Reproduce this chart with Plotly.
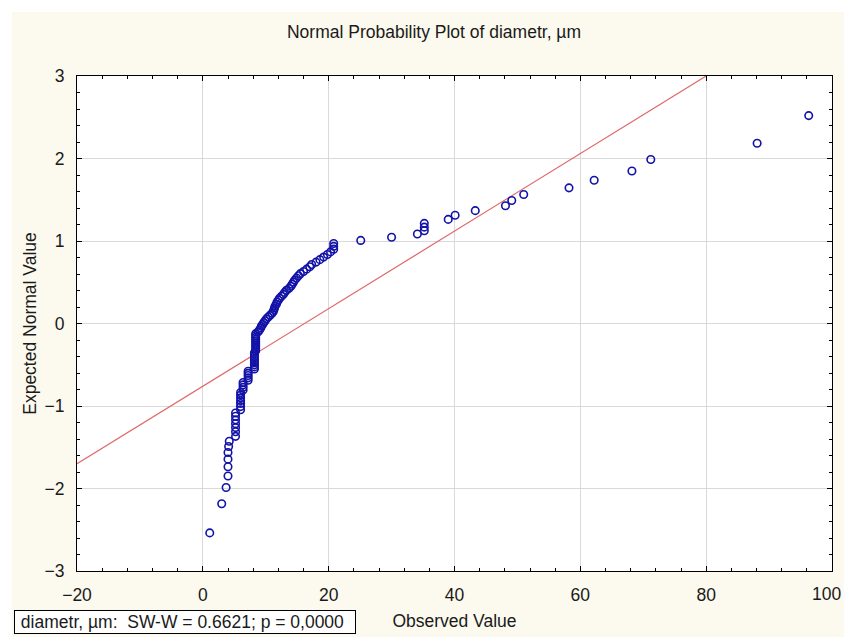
import plotly.graph_objects as go

# Sorted observed diameters (µm) and their expected normal scores
observed = [
    1.1, 3.0, 3.7, 4.0, 4.0, 4.0, 4.0, 4.1, 4.2,
    5.2, 5.2, 5.2, 5.2, 5.2, 5.2, 5.2,
    6.0, 6.0, 6.0, 6.0, 6.0, 6.0, 6.0,
    6.4, 6.4, 6.4, 6.4,
    7.2, 7.2, 7.2, 7.2, 7.2,
    8.2, 8.2, 8.2, 8.2, 8.2, 8.2, 8.2, 8.2, 8.2,
    8.4, 8.4, 8.4, 8.4, 8.4, 8.4, 8.4, 8.4, 8.4, 8.4,
    8.8, 9.0, 9.2, 9.3, 9.5,
    9.7, 9.9, 10.1, 10.4, 10.7, 11.0, 11.2, 11.3, 11.4, 11.5,
    11.7, 11.8, 12.0, 12.2, 12.5, 12.8, 13.0, 13.3, 13.7, 14.0,
    14.2, 14.4, 14.6, 14.9, 15.2, 15.5, 16.0, 16.5, 17.0, 17.3,
    18.0, 18.6, 19.2, 19.8, 20.3, 20.8, 20.8, 20.8,
    25.1, 30.0, 34.1, 35.2, 35.2, 35.2, 39.0, 40.1, 43.3, 48.1,
    49.1, 51.0, 58.2, 62.2, 68.2, 71.2, 88.1, 96.3,
]

expected = [
    -2.538, -2.184, -1.988, -1.848, -1.737, -1.644, -1.563, -1.491, -1.427,
    -1.368, -1.313, -1.262, -1.214, -1.168, -1.125, -1.084,
    -1.045, -1.007, -0.970, -0.935, -0.901, -0.868, -0.836,
    -0.805, -0.774, -0.744, -0.715,
    -0.687, -0.659, -0.631, -0.604, -0.578,
    -0.552, -0.526, -0.501, -0.475, -0.451, -0.426, -0.402, -0.377, -0.353,
    -0.330, -0.306, -0.283, -0.260, -0.237, -0.214, -0.191, -0.168, -0.146, -0.123,
    -0.101, -0.078, -0.056, -0.034, -0.011,
    0.011, 0.034, 0.056, 0.078, 0.101, 0.123, 0.146, 0.168, 0.191, 0.214,
    0.237, 0.260, 0.283, 0.306, 0.330, 0.353, 0.377, 0.402, 0.426, 0.451,
    0.475, 0.501, 0.526, 0.552, 0.578, 0.604, 0.631, 0.659, 0.687, 0.715,
    0.744, 0.774, 0.805, 0.836, 0.868, 0.901, 0.935, 0.970,
    1.007, 1.045, 1.084, 1.125, 1.168, 1.214, 1.262, 1.313, 1.368, 1.427,
    1.491, 1.563, 1.644, 1.737, 1.848, 1.988, 2.184, 2.520,
]

# Reference normal line (end points)
fit_x = [-20, 100]
fit_y = [-1.70, 3.94]

x_ticks = [-20, 0, 20, 40, 60, 80, 100]
y_ticks = [-3, -2, -1, 0, 1, 2, 3]

stats_text = "diametr, µm:\u00a0\u00a0SW-W = 0.6621; p = 0,0000"

FONT = "Liberation Sans, Arial, sans-serif"
FS = 17.5
TEXT = "#1a1a1a"


def tick_label(v):
    return ("\u2212" + str(-v)) if v < 0 else str(v)


fig = go.Figure()

fig.add_trace(go.Scatter(
    x=fit_x, y=fit_y, mode="lines",
    line=dict(color="#E06666", width=1.2),
    hoverinfo="skip",
))

fig.add_trace(go.Scatter(
    x=observed, y=expected, mode="markers",
    marker=dict(symbol="circle-open", size=7.5, color="#1212A8",
                line=dict(width=1.6, color="#1212A8")),
    cliponaxis=True,
))

axis_common = dict(
    showgrid=True, gridcolor="#D9D9D9", gridwidth=1,
    zeroline=False,
    showline=True, linecolor="black", linewidth=1, mirror="ticks",
    ticks="inside", ticklen=5, tickcolor="black",
    tickfont=dict(family=FONT, size=FS, color=TEXT),
    ticklabelstandoff=8,
)

# the last x label sits at the right edge of the page; it is drawn as an
# annotation nudged inward so it stays fully visible
fig.update_xaxes(
    range=[-20, 100], tickvals=x_ticks,
    ticktext=[tick_label(v) if v != x_ticks[-1] else "" for v in x_ticks],
    minor=dict(dtick=4, tick0=0, ticks="inside", ticklen=3, tickcolor="black", showgrid=False),
    title=dict(text="Observed Value", standoff=10, font=dict(family=FONT, size=FS, color=TEXT)),
    **axis_common,
)
fig.update_yaxes(
    range=[-3, 3], tickvals=y_ticks,
    ticktext=[tick_label(v) for v in y_ticks],
    minor=dict(dtick=0.2, tick0=0, ticks="inside", ticklen=3, tickcolor="black", showgrid=False),
    title=dict(text="Expected Normal Value", standoff=3, font=dict(family=FONT, size=FS, color=TEXT)),
    **axis_common,
)

fig.update_layout(
    width=844, height=637,
    margin=dict(l=77, r=12, t=76, b=66, autoexpand=False),
    paper_bgcolor="#FCF9EE", plot_bgcolor="white",
    showlegend=False,
    font=dict(family=FONT, size=FS, color=TEXT),
    title=dict(text="Normal Probability Plot of diametr, µm",
               x=434 / 844, xanchor="center", y=1 - 32 / 637, yanchor="middle",
               font=dict(family=FONT, size=FS, color=TEXT)),
    shapes=[
        dict(type="rect", xref="paper", yref="paper", x0=-0.2, x1=1.2,
             y0=1 + 64 / 495, y1=1.2, fillcolor="white", line=dict(width=0), layer="below"),
        dict(type="rect", xref="paper", yref="paper", x0=-0.2, x1=-65 / 755,
             y0=-0.2, y1=1.2, fillcolor="white", line=dict(width=0), layer="below"),
    ],
    annotations=[
        dict(text=tick_label(x_ticks[-1]), xref="x", yref="paper",
             x=x_ticks[-1], y=-23 / 495, xanchor="right", yanchor="middle",
             xshift=11, showarrow=False,
             font=dict(family=FONT, size=FS, color=TEXT)),
        dict(text="\u00a0" + stats_text + "\u00a0\u00a0", xref="paper", yref="paper",
             x=-63 / 755, y=-51 / 495, xanchor="left", yanchor="middle",
             showarrow=False, bgcolor="white", bordercolor="black", borderwidth=1,
             borderpad=1, font=dict(family=FONT, size=FS, color=TEXT)),
    ],
)

fig.write_html("out.html")
